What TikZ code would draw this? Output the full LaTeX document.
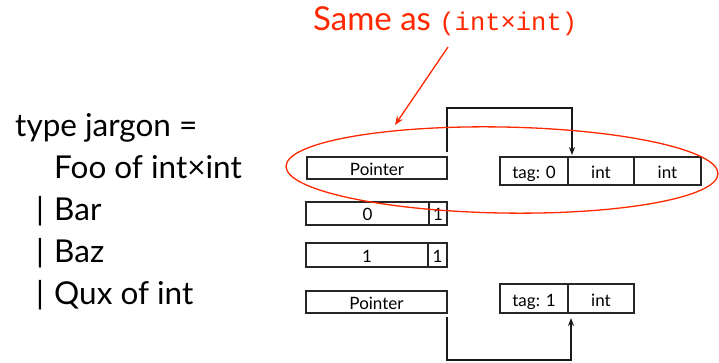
\documentclass[tikz,border=0pt]{standalone}
\usepackage{fontspec}
\setmainfont{Lato}
\setmonofont{Liberation Mono}
\usetikzlibrary{arrows.meta}
\definecolor{hot}{RGB}{255,40,0}
\begin{document}
\begin{tikzpicture}[x=1pt,y=-1pt,
  cell/.style={draw=black!85, line width=1.4pt, anchor=north west, inner sep=0pt, outer sep=0pt,
    font=\fontsize{17}{17}\selectfont, text height=15pt, text depth=0pt},
  conn/.style={draw=black!90, line width=1.3pt, -{Stealth[length=8pt,width=6pt]}},
  big/.style={anchor=base west, inner sep=0pt, font=\fontsize{31.5}{31.5}\selectfont},
  hl/.style={draw=hot, line width=1.3pt}]
\useasboundingbox (0,0) rectangle (719,363);
% left text
\node[big] (l1) at (15,137) {type jargon =};
\node[big] (l2) at (54,179) {Foo of int×int};
\node[big] (b3) at (36,220) {|};
\node[big] (l3) at (54,220) {Bar};
\node[big] (b4) at (36,262) {|};
\node[big] (l4) at (54,262) {Baz};
\node[big] (b5) at (36,304) {|};
\node[big] (l5) at (54,304) {Qux of int};
% Foo row
\node[cell, minimum width=140pt, minimum height=22pt] (p1) at (307,157) {Pointer};
\node[cell, minimum width=68pt, minimum height=28pt] (t0) at (500,157) {tag: 0};
\node[cell, minimum width=66pt, minimum height=28pt] (i1) at (568,157) {int};
\node[cell, minimum width=67pt, minimum height=28pt] (i2) at (634,157) {int};
% Bar row
\node[cell, minimum width=123pt, minimum height=23pt] (bar0) at (306,202) {0};
\node[cell, minimum width=18pt, minimum height=23pt] (bar1) at (429,202) {1};
% Baz row
\node[cell, minimum width=122pt, minimum height=24pt] (baz0) at (306,243) {1};
\node[cell, minimum width=19pt, minimum height=24pt] (baz1) at (428,243) {1};
% Qux row
\node[cell, minimum width=141pt, minimum height=22pt] (p2) at (306,291) {Pointer};
\node[cell, minimum width=68pt, minimum height=29pt] (t1) at (500,284) {tag: 1};
\node[cell, minimum width=66pt, minimum height=29pt] (i3) at (568,284) {int};
% pointer arrows
\draw[conn] ([yshift=5pt]p1.north east) -- ++(0,-44) -| ([xshift=4pt,yshift=2pt]t0.north east);
\draw[conn] ([yshift=-4pt]p2.south east) -- ++(0,43) -| ([xshift=3pt,yshift=-5pt]t1.south east);
% highlight
\draw[hl, rotate around={-1:(502,170)}] (502,170) ellipse [x radius=216pt, y radius=43pt];
\node[anchor=base west, inner sep=0pt, text=hot] (same) at (313,31)
  {\fontsize{33}{33}\selectfont Same as \texttt{\fontsize{25.5}{25.5}\selectfont (int×int)}};
\coordinate (atail) at (448,47);
\coordinate (ahead) at (395,125);
\draw[hl, -{Stealth[length=9pt,width=7pt]}] (atail) -- (ahead);
\end{tikzpicture}
\end{document}
